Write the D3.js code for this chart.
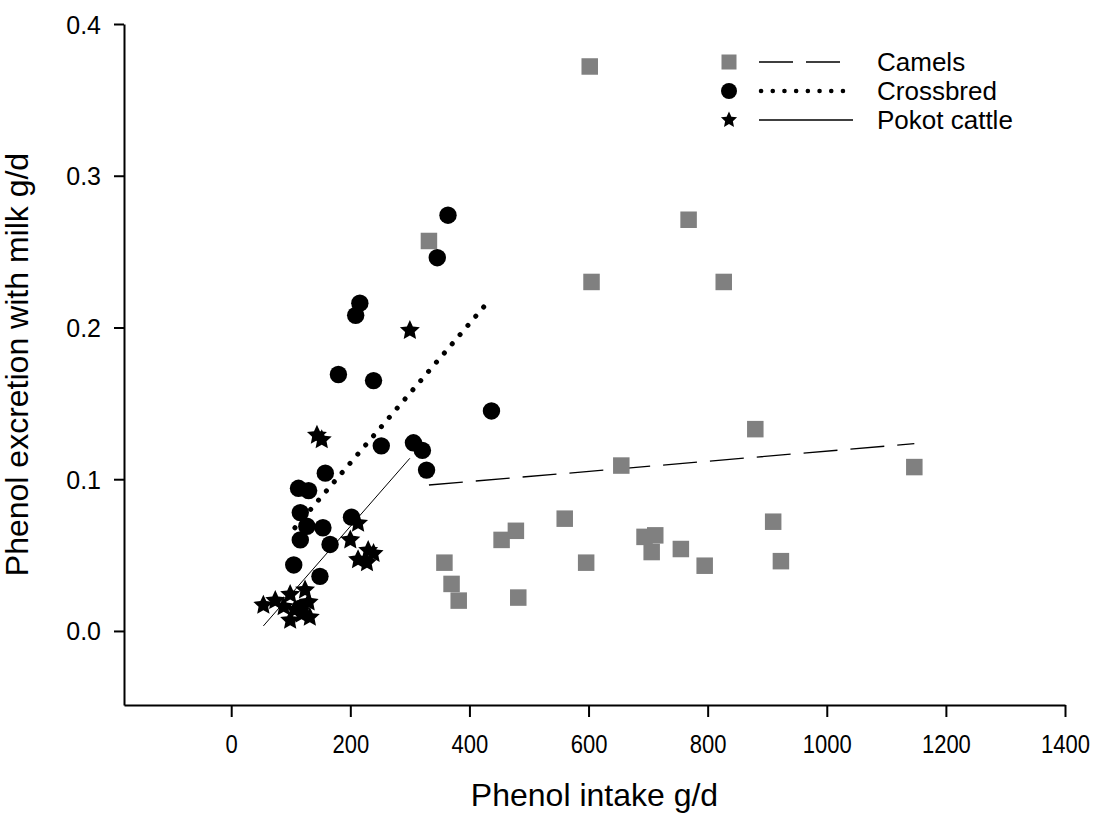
<!DOCTYPE html>
<html>
<head>
<meta charset="utf-8">
<script src="https://cdn.jsdelivr.net/npm/d3@7"></script>
<style>
  body { margin: 0; background: #fff; }
  text { font-family: "Liberation Sans", Arial, sans-serif; fill: #000; }
</style>
</head>
<body>
<div id="scatter"></div>
<script>
// Data (x = phenol intake g/d, y = excretion with milk g/d)
var camelX = [602, 332, 768, 605, 827, 880, 1147, 655, 560, 478, 454, 358, 370, 382, 482, 596, 694, 712, 706, 755, 795, 910, 923];
var camelY = [0.372, 0.257, 0.271, 0.230, 0.230, 0.133, 0.108, 0.109, 0.074, 0.066, 0.060, 0.045, 0.031, 0.020, 0.022, 0.045, 0.062, 0.063, 0.052, 0.054, 0.043, 0.072, 0.046];

var crossX = [364, 346, 216, 209, 180, 239, 437, 252, 306, 321, 328, 158, 113, 130, 116, 127, 154, 202, 116, 166, 105, 149, 116];
var crossY = [0.274, 0.246, 0.216, 0.208, 0.169, 0.165, 0.145, 0.122, 0.124, 0.119, 0.106, 0.104, 0.094, 0.0925, 0.078, 0.069, 0.068, 0.075, 0.060, 0.057, 0.0435, 0.036, 0.015];

var pokotX = [300, 144, 152, 213, 200, 230, 239, 213, 228, 54, 74, 99, 124, 130, 107, 118, 99, 132, 88];
var pokotY = [0.198, 0.129, 0.126, 0.071, 0.060, 0.053, 0.051, 0.047, 0.045, 0.017, 0.020, 0.024, 0.027, 0.019, 0.014, 0.011, 0.007, 0.009, 0.016];

// regression lines, end points
var camelLine = [[332, 0.0962], [1147, 0.1234]];
var crossLine = [[107, 0.068], [437, 0.2195]];
var pokotLine = [[54, 0.0033], [300, 0.1138]];

var xTicks = [0, 200, 400, 600, 800, 1000, 1200, 1400];
var yTicks = [0.0, 0.1, 0.2, 0.3, 0.4];
var seriesNames = ["Camels", "Crossbred", "Pokot cattle"];

var svgWidth = 1097;
var svgHeight = 816;

var margin = { top: 24, right: 32, bottom: 111, left: 124 };
var width = svgWidth - margin.left - margin.right;
var height = svgHeight - margin.top - margin.bottom;

var svg = d3.select("#scatter")
    .append("svg")
    .attr("width", svgWidth)
    .attr("height", svgHeight);

var chartGroup = svg.append("g")
    .attr("transform", `translate(${margin.left}, ${margin.top})`);

// scales
var xLinearScale = d3.scaleLinear()
    .domain([-180, 1400])
    .range([0, width]);

var yLinearScale = d3.scaleLinear()
    .domain([-0.0488, 0.4])
    .range([height, 0]);

// axes
var bottomAxis = d3.axisBottom(xLinearScale)
    .tickValues(xTicks)
    .tickSizeInner(12)
    .tickSizeOuter(0)
    .tickPadding(18)
    .tickFormat(d3.format("d"));

var leftAxis = d3.axisLeft(yLinearScale)
    .tickValues(yTicks)
    .tickSizeInner(10)
    .tickSizeOuter(0)
    .tickPadding(13)
    .tickFormat(d3.format(".1f"));

var xAxisG = chartGroup.append("g")
    .attr("transform", `translate(0, ${height})`)
    .call(bottomAxis);

var yAxisG = chartGroup.append("g")
    .call(leftAxis);

[xAxisG, yAxisG].forEach(function (g) {
    g.select(".domain").attr("stroke", "#000").attr("stroke-width", 2);
    g.selectAll(".tick line").attr("stroke", "#000").attr("stroke-width", 2);
    g.selectAll(".tick text")
        .attr("fill", "#000")
        .style("font-family", "'Liberation Sans', Arial, sans-serif")
        .style("font-size", "25px");
});
// x tick labels are a bit narrower in the original
xAxisG.selectAll(".tick text")
    .attr("transform", "scale(0.88, 1)")
    .attr("x", 0);
yAxisG.selectAll(".tick text").attr("dy", "0.36em");

// regression lines (drawn under the markers)
var line = d3.line()
    .x(d => xLinearScale(d[0]))
    .y(d => yLinearScale(d[1]));

chartGroup.append("path")
    .attr("d", line(camelLine))
    .attr("fill", "none")
    .attr("stroke", "#000")
    .attr("stroke-width", 1.3)
    .attr("stroke-dasharray", "34 13");

chartGroup.append("path")
    .attr("d", line(crossLine))
    .attr("fill", "none")
    .attr("stroke", "#000")
    .attr("stroke-width", 5)
    .attr("stroke-linecap", "round")
    .attr("stroke-dasharray", "0.1 12");

chartGroup.append("path")
    .attr("d", line(pokotLine))
    .attr("fill", "none")
    .attr("stroke", "#000")
    .attr("stroke-width", 1);

// star path helper
function starPath(R) {
    var pts = [];
    for (var i = 0; i < 10; i++) {
        var r = i % 2 === 0 ? R : R * 0.48;
        var a = -Math.PI / 2 + i * Math.PI / 5;
        pts.push([r * Math.cos(a), r * Math.sin(a)]);
    }
    return "M" + pts.map(p => p[0].toFixed(2) + "," + p[1].toFixed(2)).join("L") + "Z";
}

// camels: grey squares
var sq = 16.5;
chartGroup.selectAll(".camel")
    .data(camelX.map((x, i) => [x, camelY[i]]))
    .enter()
    .append("rect")
    .attr("class", "camel")
    .attr("x", d => xLinearScale(d[0]) - sq / 2)
    .attr("y", d => yLinearScale(d[1]) - sq / 2)
    .attr("width", sq)
    .attr("height", sq)
    .attr("fill", "#808080");

// crossbred: black circles
chartGroup.selectAll(".cross")
    .data(crossX.map((x, i) => [x, crossY[i]]))
    .enter()
    .append("circle")
    .attr("class", "cross")
    .attr("cx", d => xLinearScale(d[0]))
    .attr("cy", d => yLinearScale(d[1]))
    .attr("r", 8.7)
    .attr("fill", "#000");

// pokot cattle: black stars
chartGroup.selectAll(".pokot")
    .data(pokotX.map((x, i) => [x, pokotY[i]]))
    .enter()
    .append("path")
    .attr("class", "pokot")
    .attr("transform", d => `translate(${xLinearScale(d[0])}, ${yLinearScale(d[1])})`)
    .attr("d", starPath(10.5))
    .attr("fill", "#000");

// legend
var legend = svg.append("g").attr("transform", "translate(729, 62)");
var rowGap = 29;

legend.append("rect")
    .attr("x", -7.5).attr("y", -7.5)
    .attr("width", 15).attr("height", 15)
    .attr("fill", "#808080");
legend.append("circle")
    .attr("cx", 0).attr("cy", rowGap)
    .attr("r", 8)
    .attr("fill", "#000");
legend.append("path")
    .attr("transform", `translate(0, ${rowGap * 2})`)
    .attr("d", starPath(8.5))
    .attr("fill", "#000");

legend.append("line")
    .attr("x1", 30).attr("x2", 111).attr("y1", 0).attr("y2", 0)
    .attr("stroke", "#000").attr("stroke-width", 1.6)
    .attr("stroke-dasharray", "34 13");
legend.append("line")
    .attr("x1", 32).attr("x2", 125).attr("y1", rowGap).attr("y2", rowGap)
    .attr("stroke", "#000").attr("stroke-width", 4.5)
    .attr("stroke-linecap", "round")
    .attr("stroke-dasharray", "0.1 11.6");
legend.append("line")
    .attr("x1", 30).attr("x2", 124).attr("y1", rowGap * 2).attr("y2", rowGap * 2)
    .attr("stroke", "#000").attr("stroke-width", 1.6);

legend.selectAll(".legText")
    .data(seriesNames)
    .enter()
    .append("text")
    .attr("class", "legText")
    .attr("x", 148)
    .attr("y", (d, i) => i * rowGap)
    .attr("dy", "0.35em")
    .style("font-size", "26px")
    .text(d => d);

// axis labels
chartGroup.append("text")
    .attr("transform", `translate(${-96}, ${height / 2}) rotate(-90)`)
    .attr("text-anchor", "middle")
    .style("font-size", "32px")
    .text("Phenol excretion with milk g/d");

chartGroup.append("text")
    .attr("transform", `translate(${width / 2}, ${height + 101})`)
    .attr("text-anchor", "middle")
    .style("font-size", "32px")
    .text("Phenol intake g/d");
</script>
</body>
</html>
